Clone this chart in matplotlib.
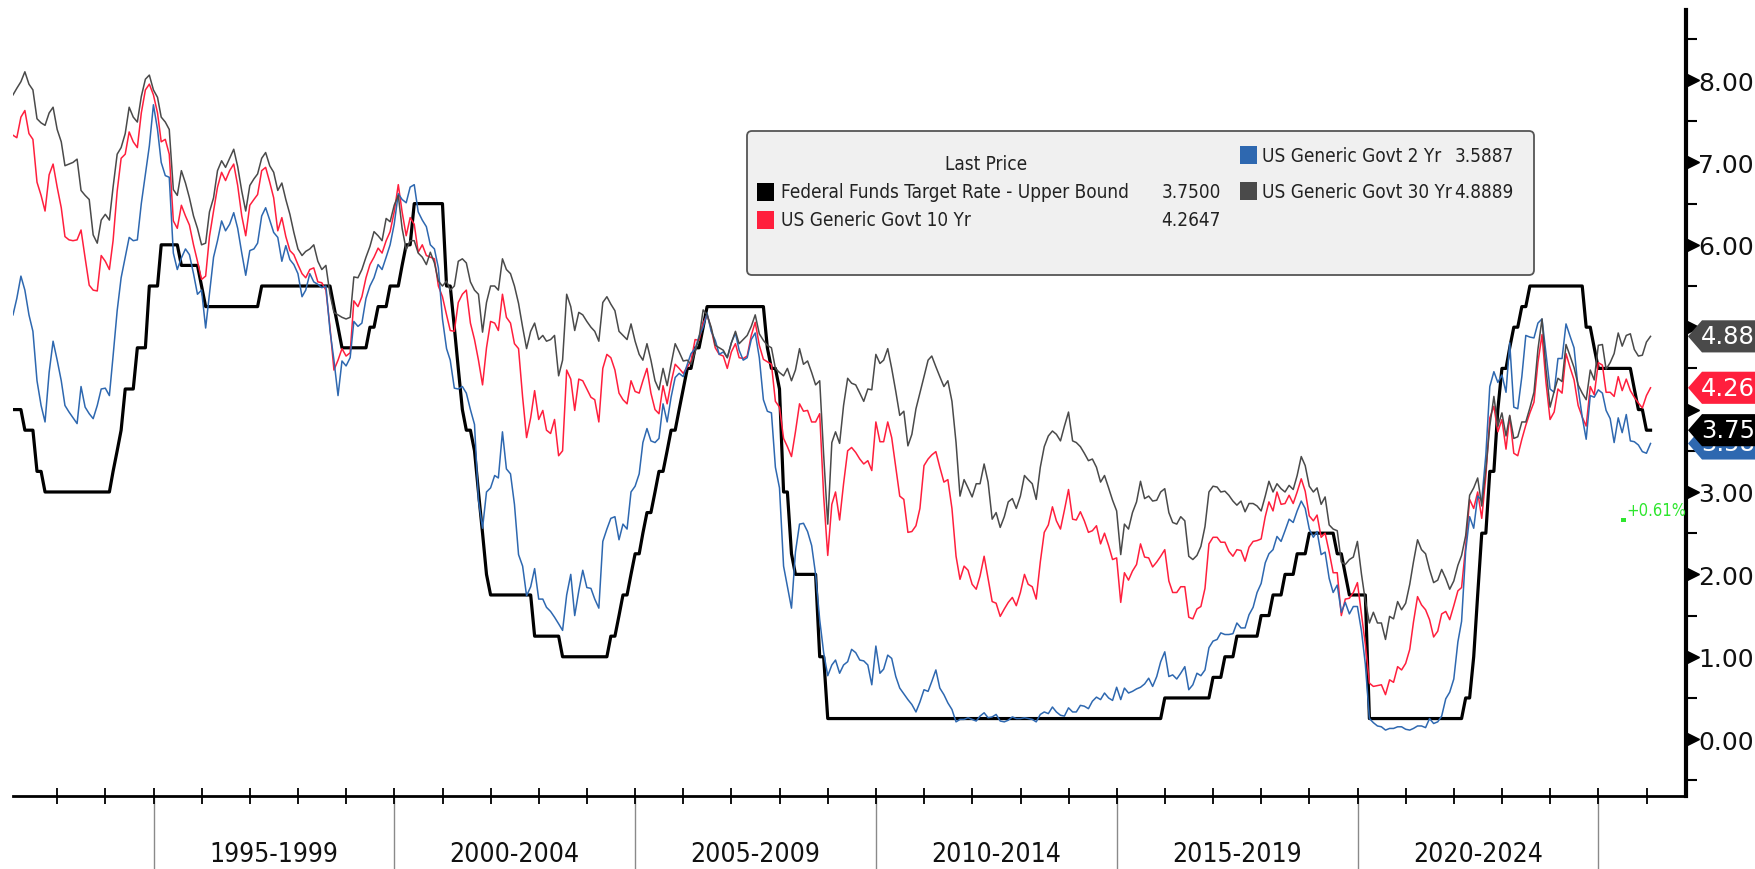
import math

import matplotlib

matplotlib.use("Agg")
import matplotlib.dates as mdates
import matplotlib.pyplot as plt
import matplotlib.transforms as mtransforms
import pandas as pd
from matplotlib import font_manager as fm
from matplotlib.patches import FancyBboxPatch, Polygon, Rectangle
from matplotlib.ticker import MultipleLocator

# Month-end yields, Jan 1992 .. Jan 2026 (one row per year)
ust2y = [
    5.15, 5.35, 5.62, 5.45, 5.15, 4.95, 4.35, 4.05, 3.85, 4.45, 4.83, 4.60,  # 1992
    4.35, 4.05, 3.97, 3.90, 3.83, 4.28, 4.03, 3.95, 3.89, 4.05, 4.25, 4.26,  # 1993
    4.17, 4.65, 5.20, 5.60, 5.85, 6.09, 6.05, 6.06, 6.50, 6.86, 7.20, 7.70,  # 1994
    7.40, 7.00, 6.84, 6.82, 5.90, 5.70, 5.84, 5.95, 5.88, 5.65, 5.40, 5.45,  # 1995
    4.99, 5.40, 5.85, 6.05, 6.29, 6.17, 6.25, 6.39, 6.20, 5.90, 5.63, 5.93,  # 1996
    5.95, 6.02, 6.35, 6.45, 6.30, 6.15, 6.09, 5.80, 5.99, 5.82, 5.76, 5.65,  # 1997
    5.37, 5.45, 5.65, 5.55, 5.52, 5.48, 5.50, 4.96, 4.60, 4.17, 4.59, 4.53,  # 1998
    4.63, 5.07, 5.01, 5.05, 5.35, 5.50, 5.60, 5.76, 5.70, 5.85, 6.00, 6.25,  # 1999
    6.62, 6.55, 6.51, 6.70, 6.73, 6.40, 6.30, 6.22, 6.00, 5.95, 5.72, 5.10,  # 2000
    4.74, 4.60, 4.26, 4.25, 4.28, 4.20, 4.00, 3.82, 2.90, 2.56, 3.00, 3.05,  # 2001
    3.20, 3.17, 3.73, 3.28, 3.22, 2.85, 2.24, 2.10, 1.74, 1.85, 2.07, 1.70,  # 2002
    1.70, 1.60, 1.55, 1.48, 1.40, 1.32, 1.75, 2.00, 1.50, 1.80, 2.05, 1.84,  # 2003
    1.83, 1.70, 1.59, 2.40, 2.55, 2.68, 2.70, 2.42, 2.61, 2.55, 3.00, 3.07,  # 2004
    3.22, 3.60, 3.77, 3.62, 3.60, 3.65, 4.07, 3.85, 4.15, 4.39, 4.44, 4.40,  # 2005
    4.55, 4.68, 4.74, 4.89, 5.00, 5.17, 4.95, 4.84, 4.67, 4.70, 4.63, 4.81,  # 2006
    4.93, 4.72, 4.60, 4.63, 4.85, 4.93, 4.63, 4.12, 3.98, 3.96, 3.30, 3.05,  # 2007
    2.10, 1.85, 1.59, 2.27, 2.61, 2.62, 2.52, 2.35, 2.00, 1.45, 1.05, 0.77,  # 2008
    0.90, 0.96, 0.80, 0.90, 0.94, 1.09, 1.05, 0.96, 0.95, 0.90, 0.66, 1.13,  # 2009
    0.80, 0.85, 1.02, 0.98, 0.76, 0.62, 0.55, 0.48, 0.42, 0.33, 0.45, 0.60,  # 2010
    0.58, 0.70, 0.84, 0.62, 0.54, 0.44, 0.36, 0.21, 0.24, 0.24, 0.26, 0.24,  # 2011
    0.22, 0.28, 0.32, 0.26, 0.27, 0.30, 0.22, 0.21, 0.23, 0.27, 0.25, 0.25,  # 2012
    0.26, 0.25, 0.24, 0.21, 0.30, 0.33, 0.31, 0.39, 0.33, 0.29, 0.28, 0.38,  # 2013
    0.33, 0.33, 0.41, 0.40, 0.37, 0.46, 0.51, 0.48, 0.56, 0.50, 0.47, 0.63,  # 2014
    0.48, 0.62, 0.56, 0.58, 0.61, 0.63, 0.67, 0.74, 0.64, 0.76, 0.94, 1.06,  # 2015
    0.76, 0.78, 0.73, 0.80, 0.88, 0.60, 0.66, 0.80, 0.77, 0.84, 1.11, 1.19,  # 2016
    1.21, 1.29, 1.27, 1.27, 1.28, 1.41, 1.35, 1.35, 1.51, 1.60, 1.78, 1.89,  # 2017
    2.14, 2.25, 2.30, 2.46, 2.40, 2.53, 2.67, 2.63, 2.77, 2.89, 2.80, 2.55,  # 2018
    2.45, 2.52, 2.24, 2.27, 1.95, 1.78, 1.87, 1.54, 1.66, 1.52, 1.61, 1.61,  # 2019
    1.31, 0.91, 0.25, 0.20, 0.16, 0.15, 0.11, 0.13, 0.13, 0.15, 0.15, 0.12,  # 2020
    0.11, 0.13, 0.16, 0.16, 0.14, 0.25, 0.19, 0.21, 0.28, 0.49, 0.57, 0.73,  # 2021
    1.18, 1.43, 2.28, 2.70, 2.56, 2.95, 2.90, 3.45, 4.28, 4.46, 4.33, 4.42,  # 2022
    4.21, 4.81, 4.03, 4.01, 4.40, 4.90, 4.88, 4.87, 5.05, 5.10, 4.68, 4.25,  # 2023
    4.21, 4.62, 4.62, 5.04, 4.89, 4.75, 4.26, 3.91, 3.64, 4.17, 4.15, 4.24,  # 2024
    4.20, 3.99, 3.89, 3.60, 3.90, 3.72, 3.94, 3.62, 3.61, 3.57, 3.49, 3.47,  # 2025
    3.5887,                                                                  # 2026
]

ust10y = [
    7.33, 7.30, 7.55, 7.63, 7.35, 7.28, 6.76, 6.60, 6.41, 6.85, 6.98, 6.70,  # 1992
    6.45, 6.10, 6.06, 6.05, 6.06, 6.18, 5.84, 5.51, 5.45, 5.44, 5.87, 5.80,  # 1993
    5.70, 6.05, 6.65, 7.05, 7.10, 7.37, 7.25, 7.18, 7.60, 7.88, 7.95, 7.82,  # 1994
    7.60, 7.25, 7.28, 7.10, 6.29, 6.20, 6.48, 6.35, 6.24, 6.00, 5.80, 5.58,  # 1995
    5.62, 6.10, 6.41, 6.70, 6.88, 6.78, 6.90, 6.98, 6.72, 6.35, 6.11, 6.48,  # 1996
    6.55, 6.61, 6.90, 6.94, 6.76, 6.57, 6.17, 6.33, 6.10, 5.93, 5.88, 5.76,  # 1997
    5.65, 5.60, 5.70, 5.72, 5.55, 5.54, 5.45, 5.00, 4.48, 4.60, 4.74, 4.65,  # 1998
    4.69, 5.32, 5.25, 5.37, 5.60, 5.76, 5.85, 5.96, 5.90, 6.05, 6.16, 6.40,  # 1999
    6.73, 6.40, 6.11, 6.33, 6.25, 5.91, 6.00, 5.87, 5.85, 5.83, 5.50, 5.37,  # 2000
    5.15, 4.96, 4.95, 5.30, 5.40, 5.45, 5.05, 4.85, 4.60, 4.30, 4.75, 5.07,  # 2001
    5.05, 4.96, 5.40, 5.12, 5.05, 4.80, 4.74, 4.15, 3.66, 3.90, 4.23, 3.88,  # 2002
    3.99, 3.75, 3.71, 3.88, 3.44, 3.50, 4.48, 4.37, 3.99, 4.37, 4.35, 4.25,  # 2003
    4.15, 4.12, 3.85, 4.50, 4.67, 4.63, 4.48, 4.20, 4.12, 4.07, 4.35, 4.22,  # 2004
    4.20, 4.35, 4.50, 4.20, 4.00, 3.95, 4.29, 4.07, 4.33, 4.55, 4.50, 4.44,  # 2005
    4.52, 4.59, 4.85, 4.84, 5.05, 5.15, 4.98, 4.75, 4.67, 4.65, 4.50, 4.70,  # 2006
    4.80, 4.63, 4.62, 4.65, 4.90, 5.06, 4.78, 4.61, 4.58, 4.55, 4.10, 4.03,  # 2007
    3.65, 3.55, 3.43, 3.73, 4.07, 3.98, 3.99, 3.85, 3.85, 3.95, 2.95, 2.23,  # 2008
    2.85, 3.00, 2.66, 3.10, 3.50, 3.54, 3.48, 3.40, 3.34, 3.38, 3.26, 3.85,  # 2009
    3.61, 3.61, 3.85, 3.66, 3.30, 2.95, 2.91, 2.51, 2.52, 2.59, 2.80, 3.32,  # 2010
    3.40, 3.45, 3.49, 3.30, 3.12, 3.15, 2.80, 2.22, 1.94, 2.10, 2.05, 1.88,  # 2011
    1.82, 1.98, 2.22, 1.95, 1.67, 1.65, 1.49, 1.58, 1.66, 1.72, 1.62, 1.78,  # 2012
    2.00, 1.88, 1.85, 1.70, 2.15, 2.51, 2.60, 2.82, 2.65, 2.55, 2.78, 3.03,  # 2013
    2.67, 2.66, 2.76, 2.65, 2.51, 2.53, 2.59, 2.37, 2.50, 2.35, 2.18, 2.20,  # 2014
    1.66, 2.02, 1.93, 2.04, 2.12, 2.37, 2.21, 2.20, 2.09, 2.15, 2.22, 2.30,  # 2015
    1.92, 1.78, 1.78, 1.85, 1.85, 1.48, 1.46, 1.58, 1.61, 1.83, 2.37, 2.45,  # 2016
    2.45, 2.39, 2.39, 2.28, 2.22, 2.30, 2.29, 2.16, 2.33, 2.40, 2.41, 2.43,  # 2017
    2.70, 2.88, 2.77, 3.00, 2.85, 2.86, 2.96, 2.86, 3.00, 3.16, 3.01, 2.71,  # 2018
    2.65, 2.72, 2.45, 2.50, 2.27, 2.02, 2.02, 1.50, 1.70, 1.71, 1.78, 1.90,  # 2019
    1.51, 1.15, 0.68, 0.64, 0.65, 0.66, 0.54, 0.72, 0.69, 0.88, 0.84, 0.92,  # 2020
    1.09, 1.42, 1.73, 1.63, 1.57, 1.45, 1.24, 1.31, 1.52, 1.55, 1.45, 1.62,  # 2021
    1.80, 1.84, 2.34, 2.91, 2.80, 3.00, 2.68, 3.19, 3.90, 4.04, 3.73, 3.88,  # 2022
    3.52, 3.92, 3.47, 3.44, 3.64, 3.81, 3.96, 4.09, 4.57, 4.91, 4.33, 3.88,  # 2023
    3.97, 4.25, 4.20, 4.68, 4.51, 4.36, 4.05, 3.91, 3.80, 4.28, 4.18, 4.57,  # 2024
    4.54, 4.21, 4.21, 4.16, 4.40, 4.23, 4.37, 4.23, 4.15, 4.08, 4.02, 4.17,  # 2025
    4.2647,                                                                  # 2026
]

ust30y = [
    7.82, 7.90, 7.98, 8.10, 7.95, 7.88, 7.53, 7.48, 7.45, 7.60, 7.67, 7.40,  # 1992
    7.25, 6.96, 6.98, 7.00, 7.04, 6.66, 6.60, 6.55, 6.12, 6.02, 6.30, 6.37,  # 1993
    6.30, 6.70, 7.10, 7.18, 7.35, 7.67, 7.55, 7.49, 7.80, 8.01, 8.06, 7.88,  # 1994
    7.79, 7.55, 7.49, 7.40, 6.67, 6.60, 6.90, 6.75, 6.57, 6.35, 6.20, 6.00,  # 1995
    6.02, 6.40, 6.57, 6.90, 7.02, 6.94, 7.05, 7.16, 6.95, 6.65, 6.41, 6.72,  # 1996
    6.80, 6.86, 7.05, 7.12, 6.96, 6.88, 6.66, 6.75, 6.55, 6.37, 6.15, 5.95,  # 1997
    5.87, 5.92, 5.95, 6.00, 5.80, 5.70, 5.75, 5.40, 5.18, 5.15, 5.12, 5.10,  # 1998
    5.12, 5.61, 5.60, 5.70, 5.85, 5.98, 6.16, 6.11, 6.05, 6.32, 6.28, 6.48,  # 1999
    6.60, 6.20, 5.94, 6.05, 6.05, 5.90, 5.85, 5.76, 5.91, 5.78, 5.56, 5.50,  # 2000
    5.56, 5.45, 5.50, 5.80, 5.83, 5.78, 5.55, 5.45, 5.40, 4.94, 5.30, 5.50,  # 2001
    5.50, 5.45, 5.83, 5.70, 5.65, 5.50, 5.29, 5.00, 4.74, 4.95, 5.05, 4.85,  # 2002
    4.90, 4.83, 4.85, 4.90, 4.41, 4.60, 5.40, 5.25, 4.96, 5.18, 5.15, 5.07,  # 2003
    5.00, 4.95, 4.83, 5.30, 5.37, 5.28, 5.20, 4.95, 4.90, 4.85, 5.04, 4.83,  # 2004
    4.67, 4.60, 4.80, 4.60, 4.35, 4.24, 4.50, 4.29, 4.55, 4.80, 4.70, 4.59,  # 2005
    4.60, 4.55, 4.70, 4.87, 5.21, 5.15, 5.00, 4.78, 4.75, 4.72, 4.63, 4.81,  # 2006
    4.95, 4.80, 4.85, 4.90, 5.01, 5.15, 4.92, 4.84, 4.78, 4.75, 4.50, 4.45,  # 2007
    4.41, 4.50, 4.35, 4.48, 4.74, 4.55, 4.59, 4.45, 4.30, 4.35, 3.45, 2.61,  # 2008
    3.60, 3.73, 3.59, 4.05, 4.38, 4.32, 4.30, 4.20, 4.10, 4.25, 4.24, 4.67,  # 2009
    4.56, 4.60, 4.74, 4.50, 4.22, 3.93, 3.98, 3.56, 3.70, 4.01, 4.20, 4.40,  # 2010
    4.60, 4.65, 4.52, 4.40, 4.28, 4.35, 4.10, 3.60, 2.95, 3.15, 3.05, 2.94,  # 2011
    3.10, 3.10, 3.34, 3.12, 2.67, 2.75, 2.57, 2.70, 2.88, 2.92, 2.80, 2.95,  # 2012
    3.20, 3.15, 3.10, 2.91, 3.30, 3.55, 3.68, 3.74, 3.70, 3.62, 3.80, 3.97,  # 2013
    3.62, 3.60, 3.55, 3.47, 3.38, 3.40, 3.30, 3.12, 3.20, 3.05, 2.90, 2.77,  # 2014
    2.24, 2.61, 2.55, 2.75, 2.88, 3.13, 2.92, 2.95, 2.89, 2.90, 3.00, 3.04,  # 2015
    2.75, 2.63, 2.61, 2.70, 2.65, 2.22, 2.18, 2.23, 2.34, 2.58, 3.00, 3.07,  # 2016
    3.06, 3.00, 3.01, 2.96, 2.89, 2.84, 2.89, 2.76, 2.86, 2.86, 2.83, 2.77,  # 2017
    2.95, 3.13, 3.00, 3.10, 3.04, 3.00, 3.08, 3.03, 3.20, 3.43, 3.32, 3.07,  # 2018
    3.00, 3.05, 2.85, 2.94, 2.60, 2.55, 2.53, 2.15, 2.12, 2.18, 2.21, 2.40,  # 2019
    2.00, 1.68, 1.41, 1.54, 1.41, 1.41, 1.21, 1.49, 1.46, 1.67, 1.57, 1.65,  # 2020
    1.88, 2.15, 2.42, 2.30, 2.25, 2.06, 1.90, 1.93, 2.06, 1.95, 1.82, 1.92,  # 2021
    2.11, 2.23, 2.47, 2.96, 3.05, 3.17, 2.83, 3.27, 3.80, 4.16, 3.80, 3.96,  # 2022
    3.68, 3.93, 3.65, 3.67, 3.85, 3.85, 4.02, 4.21, 4.73, 5.10, 4.49, 4.03,  # 2023
    4.22, 4.38, 4.34, 4.79, 4.65, 4.51, 4.30, 4.20, 4.12, 4.48, 4.36, 4.78,  # 2024
    4.79, 4.49, 4.57, 4.68, 4.93, 4.77, 4.90, 4.92, 4.73, 4.65, 4.66, 4.82,  # 2025
    4.8889,                                                                  # 2026
]

# Fed funds target (upper bound): decision dates and new levels
fed_dates = [
    "1991-12-20", "1992-04-09", "1992-07-02", "1992-09-04", "1994-02-04", "1994-03-22",
    "1994-04-18", "1994-05-17", "1994-08-16", "1994-11-15", "1995-02-01", "1995-07-06",
    "1995-12-19", "1996-01-31", "1997-03-25", "1998-09-29", "1998-10-15", "1998-11-17",
    "1999-06-30", "1999-08-24", "1999-11-16", "2000-02-02", "2000-03-21", "2000-05-16",
    "2001-01-03", "2001-01-31", "2001-03-20", "2001-04-18", "2001-05-15", "2001-06-27",
    "2001-08-21", "2001-09-17", "2001-10-02", "2001-11-06", "2001-12-11", "2002-11-06",
    "2003-06-25", "2004-06-30", "2004-08-10", "2004-09-21", "2004-11-10", "2004-12-14",
    "2005-02-02", "2005-03-22", "2005-05-03", "2005-06-30", "2005-08-09", "2005-09-20",
    "2005-11-01", "2005-12-13", "2006-01-31", "2006-03-28", "2006-05-10", "2006-06-29",
    "2007-09-18", "2007-10-31", "2007-12-11", "2008-01-22", "2008-01-30", "2008-03-18",
    "2008-04-30", "2008-10-08", "2008-10-29", "2008-12-16", "2015-12-16", "2016-12-14",
    "2017-03-15", "2017-06-14", "2017-12-13", "2018-03-21", "2018-06-13", "2018-09-26",
    "2018-12-19", "2019-07-31", "2019-09-18", "2019-10-30", "2020-03-03", "2020-03-15",
    "2022-03-16", "2022-05-04", "2022-06-15", "2022-07-27", "2022-09-21", "2022-11-02",
    "2022-12-14", "2023-02-01", "2023-03-22", "2023-05-03", "2023-07-26", "2024-09-18",
    "2024-11-07", "2024-12-18", "2025-09-17", "2025-10-29", "2025-12-10",
]
fed_levels = [
    4.00, 3.75, 3.25, 3.00, 3.25, 3.50,
    3.75, 4.25, 4.75, 5.50, 6.00, 5.75,
    5.50, 5.25, 5.50, 5.25, 5.00, 4.75,
    5.00, 5.25, 5.50, 5.75, 6.00, 6.50,
    6.00, 5.50, 5.00, 4.50, 4.00, 3.75,
    3.50, 3.00, 2.50, 2.00, 1.75, 1.25,
    1.00, 1.25, 1.50, 1.75, 2.00, 2.25,
    2.50, 2.75, 3.00, 3.25, 3.50, 3.75,
    4.00, 4.25, 4.50, 4.75, 5.00, 5.25,
    4.75, 4.50, 4.25, 3.50, 3.00, 2.25,
    2.00, 1.50, 1.00, 0.25, 0.50, 0.75,
    1.00, 1.25, 1.50, 1.75, 2.00, 2.25,
    2.50, 2.25, 2.00, 1.75, 1.25, 0.25,
    0.50, 1.00, 1.75, 2.50, 3.25, 4.00,
    4.50, 4.75, 5.00, 5.25, 5.50, 5.00,
    4.75, 4.50, 4.25, 4.00, 3.75,
]

series_names = [
    "Federal Funds Target Rate - Upper Bound",
    "US Generic Govt 10 Yr",
    "US Generic Govt 2 Yr",
    "US Generic Govt 30 Yr",
]
last_prices = [3.7500, 4.2647, 3.5887, 4.8889]
period_starts = [1995, 2000, 2005, 2010, 2015, 2020]

FED_COLOR = "#000000"
Y10_COLOR = "#ff1f3d"
Y2_COLOR = "#2e68b0"
Y30_COLOR = "#4a4a4a"

# Bloomberg uses a narrow face for legend and period labels; use a condensed
# DejaVu if the system has one, otherwise shrink the regular face a little.
_cond = fm.findfont(fm.FontProperties(family="DejaVu Sans", stretch="condensed"))
HAS_CONDENSED = "Condensed" in _cond
NARROW = dict(family="DejaVu Sans", stretch="condensed") if HAS_CONDENSED else dict(family="DejaVu Sans")
LEGEND_SIZE = 13.6 if HAS_CONDENSED else 12.2
PERIOD_SIZE = 19 if HAS_CONDENSED else 17
GREEN_SIZE = 12 if HAS_CONDENSED else 11

W, H = 1756, 870
months = pd.date_range("1992-01-31", periods=len(ust2y), freq="ME")
fed = pd.Series(fed_levels, index=pd.to_datetime(fed_dates))
fed_monthly = fed.reindex(fed.index.union(months)).ffill().reindex(months)

fig = plt.figure(figsize=(W / 100, H / 100), dpi=100)
ax = fig.add_axes([13 / W, 73 / H, 1673 / W, 786 / H])
# pixel coordinates measured from the top-left corner of the image
pix = mtransforms.Affine2D().scale(1 / W, -1 / H).translate(0, 1) + fig.transFigure

ax.plot(months, fed_monthly.values, color=FED_COLOR, lw=2.3, zorder=2)
ax.plot(months, ust10y, color=Y10_COLOR, lw=1.1, zorder=3)
ax.plot(months, ust2y, color=Y2_COLOR, lw=1.1, zorder=3)
ax.plot(months, ust30y, color=Y30_COLOR, lw=1.1, zorder=3)

ax.set_xlim(months[0], pd.Timestamp("2026-10-27"))
ax.set_ylim(-0.69, 8.85)

for side in ("left", "top"):
    ax.spines[side].set_visible(False)
ax.spines["right"].set_linewidth(3)
ax.spines["bottom"].set_linewidth(2)

# right-hand value axis; labels hidden where a last-price tag sits on top
ax.yaxis.tick_right()
yvals = list(range(0, 9))
ax.set_yticks(yvals)
ax.set_yticklabels([
    "" if any(abs(v - p) < 0.3 for p in last_prices) else f"{v:.2f}" for v in yvals
])
ax.yaxis.set_minor_locator(MultipleLocator(0.5))
ax.tick_params(axis="y", which="major", length=0, pad=9, labelsize=18, labelcolor="#111111")
ax.tick_params(axis="y", which="minor", length=8, width=1.5, direction="out")
ax.plot([1.004] * len(yvals), yvals, ls="none", marker=">", ms=8, color="black",
        transform=ax.get_yaxis_transform(), clip_on=False, zorder=5)

# date axis: yearly ticks plus long separators every five years
ax.xaxis.set_major_locator(mdates.YearLocator(5))
ax.xaxis.set_minor_locator(mdates.YearLocator(1))
ax.xaxis.remove_overlapping_locs = False
ax.tick_params(axis="x", which="major", direction="out", length=53, width=1,
               color="#8a8a8a", labelbottom=False)
ax.tick_params(axis="x", which="minor", direction="inout", length=12, width=1.3,
               color="black", labelbottom=False)
for start in period_starts:
    mid = pd.Timestamp(f"{start + 2}-07-02")
    ax.text(mid, -0.0738, f"{start}-{start + 4}", transform=ax.get_xaxis_transform(),
            ha="center", va="center", fontsize=PERIOD_SIZE, color="#111111", **NARROW)

# last-price tags on the right axis (2 Yr underneath, then FF, 10 Yr, 30 Yr)
tag_trans = mtransforms.blended_transform_factory(pix, ax.transData)
tag_colors = [FED_COLOR, Y10_COLOR, Y2_COLOR, Y30_COLOR]
half = 0.195
for k, idx in enumerate((2, 0, 1, 3)):
    v = last_prices[idx]
    shape = Polygon(
        [(1688, v), (1702, v + half), (1770, v + half), (1770, v - half), (1702, v - half)],
        closed=True, transform=tag_trans, facecolor=tag_colors[idx], edgecolor="none",
        clip_on=False, zorder=6 + 2 * k,
    )
    fig.add_artist(shape)
    label = f"{math.floor(v * 100) / 100:.2f}"
    fig.text(1701, v, label, transform=tag_trans, color="white", fontsize=17.5,
             ha="left", va="center", zorder=7 + 2 * k)

# small green change marker
fig.text(1626, 511, "+0.61%", transform=pix, color="#2ee62e", fontsize=GREEN_SIZE,
         ha="left", va="center", zorder=20, **NARROW)
fig.add_artist(Rectangle((1621, 519), 5, 4, transform=pix, facecolor="#2ee62e",
                         edgecolor="none", zorder=20))

# legend box
fig.add_artist(FancyBboxPatch((747, 132), 787, 144, boxstyle="round,pad=0,rounding_size=5",
                              transform=pix, facecolor="#f0f0f0", edgecolor="#555555",
                              lw=1.3, zorder=30))
fig.text(986, 164, "Last Price", transform=pix, ha="center", va="center",
         fontsize=LEGEND_SIZE, color="#222222", zorder=31, **NARROW)
legend_rows = [
    (0, 757, 193, 781, 1221),
    (1, 757, 221, 781, 1221),
    (2, 1240, 156, 1262, 1514),
    (3, 1240, 192, 1262, 1514),
]
for idx, sx, ry, tx, vx in legend_rows:
    fig.add_artist(Rectangle((sx, ry - 9), 17, 18, transform=pix, facecolor=tag_colors[idx],
                             edgecolor="none", zorder=31))
    fig.text(tx, ry, series_names[idx], transform=pix, ha="left", va="center",
             fontsize=LEGEND_SIZE, color="#222222", zorder=31, **NARROW)
    fig.text(vx, ry, f"{last_prices[idx]:.4f}", transform=pix, ha="right", va="center",
             fontsize=LEGEND_SIZE, color="#222222", zorder=31, **NARROW)

fig.savefig("out.png", dpi=100, facecolor="white")
